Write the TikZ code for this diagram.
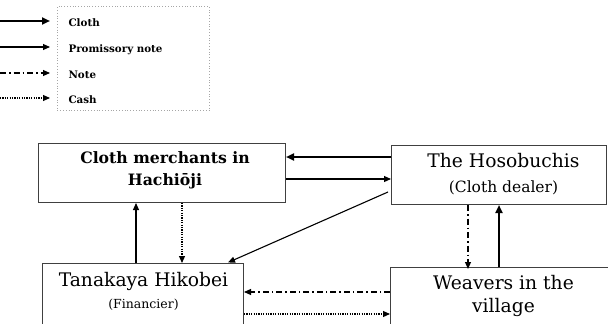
\documentclass[tikz,border=0pt]{standalone}
\usepackage{fontspec}
\setmainfont{DejaVu Serif}
\usetikzlibrary{arrows.meta}
\tikzset{
  box/.style={draw=black!75, line width=1pt, rectangle, inner sep=0pt, anchor=north west},
  big/.style={font=\fontsize{18.7}{22}\selectfont, anchor=base},
  bigb/.style={font=\fontsize{15.7}{20}\selectfont\bfseries, anchor=base},
  small/.style={font=\fontsize{15.5}{18}\selectfont, anchor=base},
  smaller/.style={font=\fontsize{12.5}{15}\selectfont, anchor=base},
  leg/.style={font=\fontsize{10.3}{12}\selectfont\bfseries, anchor=base west},
  cloth/.style={line width=2.2pt, -{Triangle[length=8pt,width=7pt]}},
  prom/.style={line width=1.1pt, -{Triangle[length=7pt,width=6pt]}},
  notearr/.style={line width=1.1pt, dash pattern=on 6pt off 3pt on 1.5pt off 3pt, -{Triangle[length=7pt,width=6pt]}},
  cash/.style={line width=1.1pt, dash pattern=on 1.2pt off 1.2pt, -{Triangle[length=7pt,width=6pt]}},
}
\begin{document}
\begin{tikzpicture}[x=1pt,y=-1pt]
\useasboundingbox (0,0) rectangle (608,324);
\clip (0,0) rectangle (608,324);
% legend
\node[draw=black!35, dotted, line width=0.8pt, minimum width=152pt, minimum height=104pt, anchor=north west, inner sep=0pt] (legend) at (57,6) {};
\coordinate (l1s) at (0,21); \coordinate (l1e) at (50,21);
\coordinate (l2s) at (0,47); \coordinate (l2e) at (50,47);
\coordinate (l3s) at (0,73); \coordinate (l3e) at (50,73);
\coordinate (l4s) at (0,98); \coordinate (l4e) at (50,98);
\draw[cloth] (l1s) -- (l1e);
\draw[prom] (l2s) -- (l2e);
\draw[notearr] (l3s) -- (l3e);
\draw[cash] (l4s) -- (l4e);
\node[leg] (t1) at (65,26) {Cloth};
\node[leg] (t2) at (65,52) {Promissory note};
\node[leg] (t3) at (65,78) {Note};
\node[leg] (t4) at (65,103) {Cash};
% boxes
\node[box, minimum width=247pt, minimum height=59pt] (cm) at (38,143) {};
\node[box, minimum width=215pt, minimum height=59pt] (hos) at (391,145) {};
\node[box, minimum width=201pt, minimum height=90pt] (tan) at (42,263) {};
\node[box, minimum width=230pt, minimum height=90pt] (wea) at (390,267) {};
% texts
\node[bigb] (cm1) at (165,163) {Cloth merchants in};
\node[bigb] (cm2) at (165,185) {Hachi\=oji};
\node[big] (hos1) at (503.5,167) {The Hosobuchis};
\node[small] (hos2) at (503.5,192) {(Cloth dealer)};
\node[big] (tan1) at (143.5,286) {Tanakaya Hikobei};
\node[smaller] (tan2) at (143.5,308) {(Financier)};
\node[big] (wea1) at (503.5,289) {Weavers in the};
\node[big] (wea2) at (503.5,312) {village};
% connectors
\draw[cloth] (hos.west |- 0,157) -- (cm.east |- 0,157);
\draw[prom] (cm.east |- 0,179) -- (hos.west |- 0,179);
\coordinate (hsw) at (388,192);
\draw[prom] (hsw) -- (228,262.5);
\draw[prom] (tan.north -| 136,0) -- (cm.south -| 136,0);
\draw[cash] (cm.south -| 182,0) -- (tan.north -| 182,0);
\draw[notearr] (hos.south -| 468,0) -- ([yshift=-2pt]wea.north -| 468,0);
\draw[cloth] (wea.north -| 499,0) -- (hos.south -| 499,0);
\draw[notearr] (wea.west |- 0,292) -- (tan.east |- 0,292);
\draw[cash] (tan.east |- 0,314) -- (wea.west |- 0,314);
\end{tikzpicture}
\end{document}
